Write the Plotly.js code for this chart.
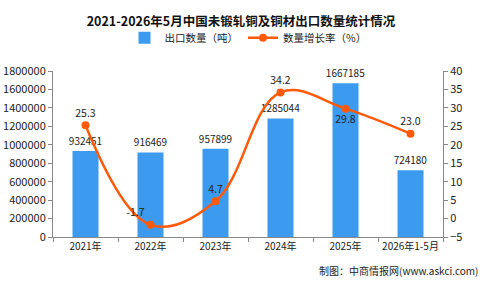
<!DOCTYPE html>
<html><head><meta charset="utf-8">
<script src="https://cdn.plot.ly/plotly-3.0.1.min.js"></script>
<style>html,body{margin:0;padding:0;background:#fff}#c{width:482px;height:284px}</style>
</head><body><div id="c"></div>
<script>
const categories = ["2021年","2022年","2023年","2024年","2025年","2026年1-5月"];
const exportQty = [932451, 916469, 957899, 1285044, 1667185, 724180];
const growthRate = [25.3, -1.7, 4.7, 34.2, 29.8, 23.0];
const growthLabels = ["25.3","-1.7","4.7","34.2","29.8","23.0"];
const growthLabelPos = ["top center","top left","top center","top center","bottom center","top center"];

const font = "'Noto Sans CJK SC', 'DejaVu Sans', sans-serif";
const data = [
  {type:"bar", name:"出口数量（吨）", x:categories, y:exportQty,
   marker:{color:"#3d9bef"}, width:0.4,
   text:exportQty.map(String), textposition:"outside", cliponaxis:false, constraintext:"none",
   textfont:{size:10, color:"#222", family:font}},
  {type:"scatter", mode:"lines+markers+text", name:"数量增长率（%）", x:categories, y:growthRate,
   yaxis:"y2", line:{color:"#ff5a0a", width:2.5, shape:"spline", smoothing:1.1},
   marker:{color:"#ff5a0a", size:8},
   text:growthLabels, textposition:growthLabelPos, cliponaxis:false,
   textfont:{size:10.5, color:"#222", family:font}}
];
const layout = {
  width:482, height:284,
  margin:{l:53, r:39, t:71, b:47},
  paper_bgcolor:"#fff", plot_bgcolor:"#fff",
  font:{family:font, size:10, color:"#222"},
  title:{text:"<b>2021-2026年5月中国未锻轧铜及铜材出口数量统计情况</b>", x:0.5, xanchor:"center", y:0.925, yanchor:"middle", font:{size:12.5, color:"#111", family:font}},
  showlegend:true,
  legend:{orientation:"h", x:0.5, xanchor:"center", y:1.2, yanchor:"middle", font:{size:10.5, family:font}, traceorder:"normal"},
  bargap:0.6,
  xaxis:{type:"category", showline:true, linecolor:"#888", ticks:"outside", tickcolor:"#888", ticklen:4, tickangle:0,
         tickson:"boundaries", tickfont:{size:10, family:font}, showgrid:false, zeroline:false},
  yaxis:{range:[0,1800000], dtick:200000, showgrid:false, showline:true, linecolor:"#888", ticks:"outside", tickcolor:"#888", ticklen:4,
         tickformat:"d", tickfont:{size:11, family:font}, zeroline:false},
  yaxis2:{overlaying:"y", side:"right", range:[-5,40], dtick:5, showgrid:false, showline:true, linecolor:"#888",
          ticks:"outside", tickcolor:"#888", ticklen:4, tickfont:{size:11, family:font}, zeroline:false},
  annotations:[{text:"制图：中商情报网(www.askci.com)", xref:"paper", yref:"paper", x:1.095, xanchor:"right", y:-0.2, yanchor:"middle",
                showarrow:false, font:{size:10, color:"#222", family:font}}]
};
Plotly.newPlot("c", data, layout, {displayModeBar:false, staticPlot:true});
</script></body></html>
